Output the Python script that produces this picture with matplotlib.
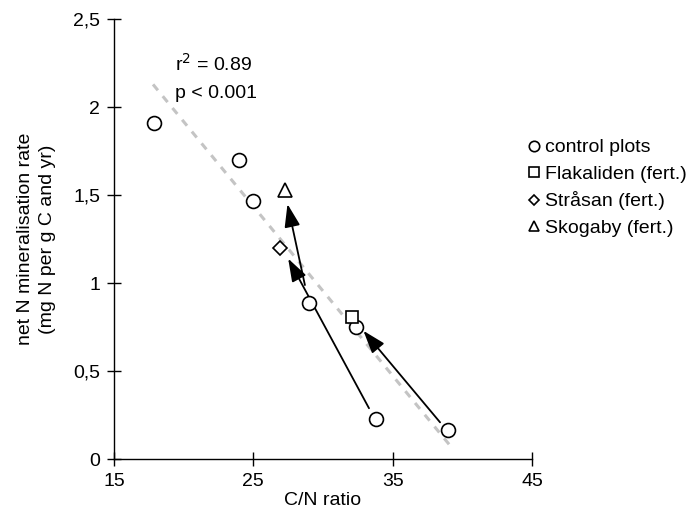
import numpy as np
import matplotlib.pyplot as plt
from matplotlib.ticker import FuncFormatter

plt.rcParams['font.family'] = ['Liberation Sans', 'DejaVu Sans']

# Control plots (C/N ratio, net N mineralisation rate)
ctrl_cn = [17.9, 24.0, 25.0, 29.0, 32.4, 33.8, 39.0]
ctrl_min = [1.91, 1.70, 1.47, 0.89, 0.75, 0.23, 0.165]

# Fertilised plots
flak_cn, flak_min = [32.1], [0.81]
stra_cn, stra_min = [26.9], [1.20]
skog_cn, skog_min = [27.3], [1.53]

# Regression line end points
fit_cn = [17.8, 39.1]
fit_min = [2.13, 0.08]

# Arrows: control -> fertilised (start, end)
arrows = [
    ((33.3, 0.29), (27.5, 1.14)),
    ((28.7, 0.99), (27.45, 1.45)),
    ((38.4, 0.21), (32.9, 0.73)),
]

FS = 14

fig = plt.figure(figsize=(6.94, 5.24), dpi=100)
ax = fig.add_axes([0.1643, 0.1235, 0.6023, 0.8397])

ax.plot(fit_cn, fit_min, color='#c4c4c4', lw=2.2, ls=(0, (2.5, 2.5)), zorder=1)

for (x0, y0), (x1, y1) in arrows:
    ax.annotate('', xy=(x1, y1), xytext=(x0, y0),
                arrowprops=dict(arrowstyle='-|>,head_length=1.4,head_width=0.48',
                                color='black', lw=1.3, shrinkA=0, shrinkB=0),
                zorder=2)

mk = dict(mfc='white', mec='black', mew=1.2, ls='none', zorder=3)
ax.plot(ctrl_cn, ctrl_min, 'o', ms=10, label='control plots', **mk)
ax.plot(flak_cn, flak_min, 's', ms=9, label='Flakaliden (fert.)', **mk)
ax.plot(stra_cn, stra_min, 'D', ms=7, label='Stråsan (fert.)', **mk)
ax.plot(skog_cn, skog_min, '^', ms=10, label='Skogaby (fert.)', **mk)

ax.text(19.4, 2.21, 'r$^2$ = 0.89', fontsize=FS)
ax.text(19.4, 2.05, 'p < 0.001', fontsize=FS)

ax.set_xlim(15, 45)
ax.set_ylim(0, 2.5)
ax.set_xticks([15, 25, 35, 45])
ax.set_yticks([0, 0.5, 1, 1.5, 2, 2.5])
ax.yaxis.set_major_formatter(FuncFormatter(lambda v, p: ('%g' % v).replace('.', ',')))
ax.tick_params(direction='inout', length=10, width=1, labelsize=FS, pad=5)
for s in ['top', 'right']:
    ax.spines[s].set_visible(False)
for s in ['left', 'bottom']:
    ax.spines[s].set_linewidth(1)
ax.set_xlabel('C/N ratio', fontsize=FS, labelpad=1)
ax.set_ylabel('net N mineralisation rate\n(mg N per g C and yr)', fontsize=FS,
              labelpad=12, linespacing=1.45)

leg = ax.legend(loc='upper left', bbox_to_anchor=(0.75, 0.75), bbox_transform=fig.transFigure,
                frameon=False, fontsize=FS, handlelength=0.6, handletextpad=0.25,
                labelspacing=0.45, markerscale=0.75, borderaxespad=0)

fig.savefig('out.png', dpi=100)
